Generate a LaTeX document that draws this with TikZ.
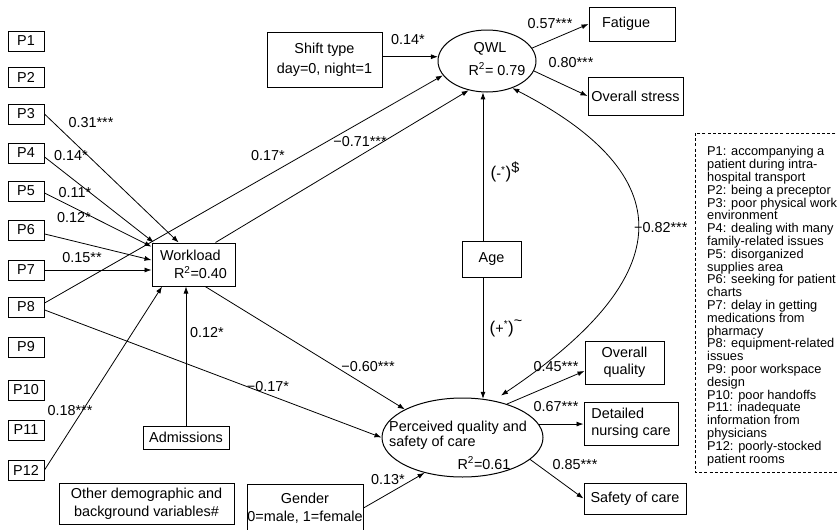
\documentclass[tikz,border=0pt]{standalone}
\usepackage{fontspec}
\setmainfont{Liberation Sans}
\usetikzlibrary{arrows.meta,shapes.geometric,calc}
\newcommand\mf{\fontsize{14.4}{18}\selectfont}
\newcommand\lf{\fontsize{12.8}{12.8}\selectfont}
\newcommand\bigpar[1]{{\fontsize{17}{17}\selectfont #1}}
\begin{document}
\begin{tikzpicture}[x=1pt,y=-1pt,
  box/.style={draw, line width=1pt, inner sep=0pt, align=center, font=\mf},
  pbox/.style={box, minimum width=36pt, minimum height=20pt},
  lab/.style={inner sep=0pt, font=\mf},
  tip/.style={-{Latex[length=7pt,width=5pt]}},
  conn/.style={line width=0.8pt, tip},
  ell/.style={draw, ellipse, line width=1pt, inner sep=0pt}]
\useasboundingbox (0,0) rectangle (838,530);

% predictor boxes
\foreach \i/\y in {1/41,2/77,3/114,4/153,5/191,6/230,7/270,8/307,9/347,10/390,11/430,12/470}
  \node[pbox] (p\i) at (26,\y) {P\i};

% main nodes
\node[box, minimum width=83pt, minimum height=43pt, align=left] (wl) at (193.5,264.5) {Workload\\\hspace*{14pt}R\textsuperscript{2}=0.40};
\node[box, minimum width=86pt, minimum height=23pt] (adm) at (186,437.5) {Admissions};
\node[box, minimum width=115pt, minimum height=55pt, font=\fontsize{14.4}{20}\selectfont] (shift) at (324.5,59.5) {Shift type\\day=0, night=1};
\node[ell, minimum width=98pt, minimum height=62pt] (qwl) at (487,61) {};
\node[lab] (qwlt) at (490,49) {QWL};
\node[lab] (qwlr) at (497,69) {R\textsuperscript{2}= 0.79};
\node[box, minimum width=86pt, minimum height=34pt] (fat) at (632,24) {\makebox[60pt][l]{Fatigue}};
\node[box, minimum width=95pt, minimum height=38pt] (ost) at (635.5,96) {Overall stress};
\node[box, minimum width=59pt, minimum height=36pt] (age) at (491.5,259) {Age};
\node[ell, minimum width=161pt, minimum height=79pt] (perc) at (462.5,437.5) {};
\node[lab, anchor=west, align=left, font=\fontsize{14.4}{15}\selectfont] (perct) at (389,435.5) {Perceived quality and\\safety of care};
\node[lab] (percr) at (484,463) {R\textsuperscript{2}=0.61};
\node[box, minimum width=116pt, minimum height=48pt] (gen) at (305,508) {Gender\\0=male, 1=female};
\node[box, minimum width=175pt, minimum height=41pt] (oth) at (146.5,503.5) {Other demographic and\\background variables\#};
\node[box, minimum width=79pt, minimum height=43pt, font=\fontsize{14.4}{17}\selectfont] (oq) at (624.5,362.5) {Overall\\quality};
\node[box, minimum width=94pt, minimum height=43pt, align=left, font=\fontsize{14.4}{17}\selectfont] (det) at (631,423.5) {Detailed\\nursing care};
\node[box, minimum width=102pt, minimum height=31pt] (saf) at (635,498.5) {Safety of care};

% legend
\draw[line width=0.8pt, dash pattern=on 3pt off 2.2pt] (695,133) rectangle (850,472);
\node[anchor=north west, inner sep=0pt, align=left, font=\lf] (leg) at (707,146.4) {%
P1: accompanying a\\
patient during intra-\\
hospital transport\\
P2: being a preceptor\\
P3: poor physical work\\
environment\\
P4: dealing with many\\
family-related issues\\
P5: disorganized\\
supplies area\\
P6: seeking for patient\\
charts\\
P7: delay in getting\\
medications from\\
pharmacy\\
P8: equipment-related\\
issues\\
P9: poor workspace\\
design\\
P10: poor handoffs\\
P11: inadequate\\
information from\\
physicians\\
P12: poorly-stocked\\
patient rooms};

% connectors
\draw[conn] (p3.east) -- (wl.124);
\draw[conn] (p4.-12) -- (wl.151);
\draw[conn] (p5.-6) -- (wl.157);
\draw[conn] (p6.-12) -- (wl.174);
\draw[conn] (p7.east) -- (p7.east -| wl.west);
\draw[conn] (p8.12) -- (qwl.198);
\draw[conn] (p8.-9) -- (perc.180);
\draw[conn] (p12.east) -- (wl.215);
\draw[conn] (adm.north) -- (adm.north |- wl.south);
\draw[conn] (wl.45) -- (qwl.238);
\draw[conn] (wl.-62) -- (perc.154);
\draw[conn] (shift.east |- qwl.175) -- (qwl.175);
\draw[conn] (qwl.16) -- (fat.west);
\draw[conn] (qwl.-12) -- (ost.west);
\draw[conn] ([xshift=-8.5pt]age.north) -- ([xshift=-8.5pt]age.north |- qwl.262);
\draw[conn] ([xshift=-8.5pt]age.south) -- ([xshift=-8.5pt]age.south |- perc.62);
\draw[line width=0.8pt, {Latex[length=7pt,width=5pt]}-{Latex[length=7pt,width=5pt]}, shorten >=9pt] (qwl.313) .. controls (681,175) and (681,275) .. (perc.50);
\draw[conn] (gen.east) -- (perc.223);
\draw[conn] (perc.37) -- ([yshift=-8.5pt]oq.west);
\draw[conn] (perc.10) -- (perc.10 -| det.west);
\draw[conn] (perc.-18) -- (saf.west);

% labels
\node[lab] (l31) at (91,123) {0.31***};
\node[lab] (l14) at (71,156) {0.14*};
\node[lab] (l11) at (75,193) {0.11*};
\node[lab] (l12) at (74,218) {0.12*};
\node[lab] (l15) at (82,258) {0.15**};
\node[lab] (l17) at (268,156) {0.17*};
\node[lab] (l71) at (360,142) {−0.71***};
\node[lab] (ls14) at (408,40) {0.14*};
\node[lab] (l57) at (550,24) {0.57***};
\node[lab] (l80) at (571,63) {0.80***};
\node[lab] (lage1) at (505,172) {\bigpar{(}-\textsuperscript{*}\bigpar{)}\raisebox{6pt}{\$}};
\node[lab] (lage2) at (506,328) {\bigpar{(}+\textsuperscript{*}\bigpar{)}\raisebox{8pt}{\textasciitilde}};
\node[lab, anchor=west] (l82) at (634,228) {−0.82***};
\node[lab] (la12) at (207,333) {0.12*};
\node[lab] (l18) at (70,411) {0.18***};
\node[lab] (l60) at (368,367) {−0.60***};
\node[lab] (lm17) at (268,387) {−0.17*};
\node[lab] (l13) at (388,480) {0.13*};
\node[lab] (l45) at (556,367) {0.45***};
\node[lab] (l67) at (556,407) {0.67***};
\node[lab] (l85) at (575,465) {0.85***};
\end{tikzpicture}
\end{document}
